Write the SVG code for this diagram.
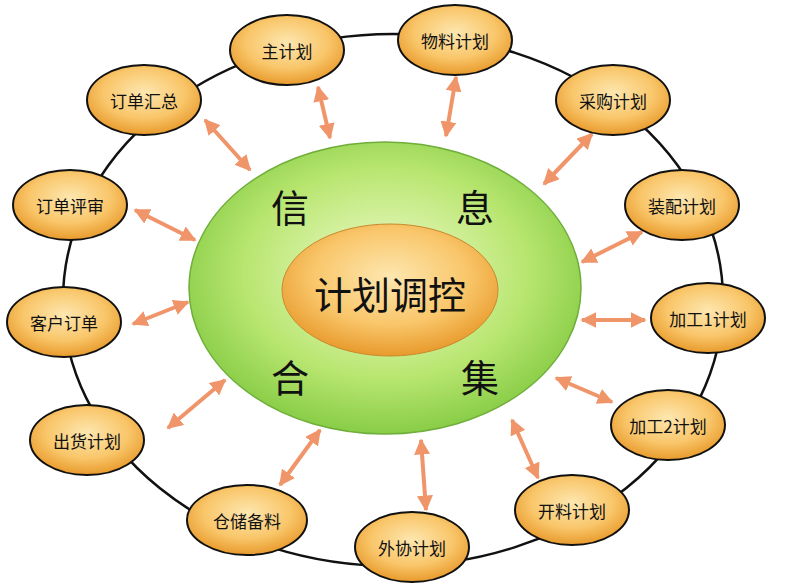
<svg xmlns="http://www.w3.org/2000/svg" width="785" height="584" viewBox="0 0 785 584">
<defs>
<radialGradient id="og" cx="50%" cy="40%" r="60%"><stop offset="0" stop-color="#fde7b0"/><stop offset="0.6" stop-color="#f9c66a"/><stop offset="1" stop-color="#e89a2c"/></radialGradient>
<radialGradient id="gg" cx="50%" cy="45%" r="60%"><stop offset="0" stop-color="#f2fbd0"/><stop offset="0.6" stop-color="#b8e670"/><stop offset="1" stop-color="#7cc63c"/></radialGradient>
<marker id="ah" viewBox="0 0 10 10" refX="9" refY="5" markerWidth="4" markerHeight="4" orient="auto-start-reverse"><path d="M0,0L10,5L0,10z" fill="#f0956a"/></marker>
<style>
.n ellipse{fill:url(#og);stroke:#111;stroke-width:2}
.n text{font-family:"Noto Sans CJK SC","Liberation Sans",sans-serif;font-size:17px;text-anchor:middle;dominant-baseline:central;fill:#111}
.c line{stroke:#f0956a;stroke-width:4;marker-start:url(#ah);marker-end:url(#ah)}
.big{font-family:"Noto Sans CJK SC",sans-serif;font-size:38px;text-anchor:middle;dominant-baseline:central;fill:#111}
</style>
</defs>
<rect width="785" height="584" fill="#fff"/>
<ellipse cx="393" cy="300" rx="330" ry="266" fill="none" stroke="#111" stroke-width="2.5"/>
<g id="center">
<ellipse cx="385" cy="288" rx="196" ry="146" fill="url(#gg)" stroke="#6fae3a" stroke-width="1.5"/>
<ellipse cx="390" cy="290" rx="108" ry="66" fill="url(#og)" stroke="#c98a2e" stroke-width="1"/>
<text class="big" x="390" y="292" font-size="36">计划调控</text>
<text class="big" x="290" y="205">信</text>
<text class="big" x="475" y="205">息</text>
<text class="big" x="290" y="375">合</text>
<text class="big" x="480" y="375">集</text>
</g>
<g class="c" id="connectors">
<line x1="318" y1="87" x2="330" y2="138"/>
<line x1="456" y1="77" x2="446" y2="136"/>
<line x1="592" y1="134" x2="544" y2="184"/>
<line x1="642" y1="232" x2="582" y2="262"/>
<line x1="645" y1="320" x2="582" y2="320"/>
<line x1="612" y1="402" x2="556" y2="378"/>
<line x1="538" y1="478" x2="512" y2="420"/>
<line x1="426" y1="510" x2="421" y2="440"/>
<line x1="280" y1="485" x2="320" y2="430"/>
<line x1="168" y1="428" x2="225" y2="380"/>
<line x1="133" y1="324" x2="188" y2="302"/>
<line x1="135" y1="210" x2="195" y2="240"/>
<line x1="205" y1="120" x2="250" y2="170"/>
</g>
<g class="n" id="n1"><ellipse cx="287" cy="50" rx="57" ry="35"/><text x="287" y="50">主计划</text></g>
<g class="n" id="n2"><ellipse cx="455" cy="40" rx="57" ry="35"/><text x="455" y="40">物料计划</text></g>
<g class="n" id="n3"><ellipse cx="613" cy="100" rx="57" ry="35"/><text x="613" y="100">采购计划</text></g>
<g class="n" id="n4"><ellipse cx="682" cy="205" rx="57" ry="35"/><text x="682" y="205">装配计划</text></g>
<g class="n" id="n5"><ellipse cx="708" cy="318" rx="57" ry="35"/><text x="708" y="318">加工1计划</text></g>
<g class="n" id="n6"><ellipse cx="668" cy="425" rx="57" ry="35"/><text x="668" y="425">加工2计划</text></g>
<g class="n" id="n7"><ellipse cx="572" cy="510" rx="57" ry="35"/><text x="572" y="510">开料计划</text></g>
<g class="n" id="n8"><ellipse cx="412" cy="547" rx="57" ry="35"/><text x="412" y="547">外协计划</text></g>
<g class="n" id="n9"><ellipse cx="247" cy="520" rx="60" ry="35"/><text x="247" y="520">仓储备料</text></g>
<g class="n" id="n10"><ellipse cx="87" cy="440" rx="57" ry="35"/><text x="87" y="440">出货计划</text></g>
<g class="n" id="n11"><ellipse cx="64" cy="322" rx="57" ry="35"/><text x="64" y="322">客户订单</text></g>
<g class="n" id="n12"><ellipse cx="70" cy="205" rx="57" ry="35"/><text x="70" y="205">订单评审</text></g>
<g class="n" id="n13"><ellipse cx="144" cy="100" rx="57" ry="35"/><text x="144" y="100">订单汇总</text></g>
</svg>
